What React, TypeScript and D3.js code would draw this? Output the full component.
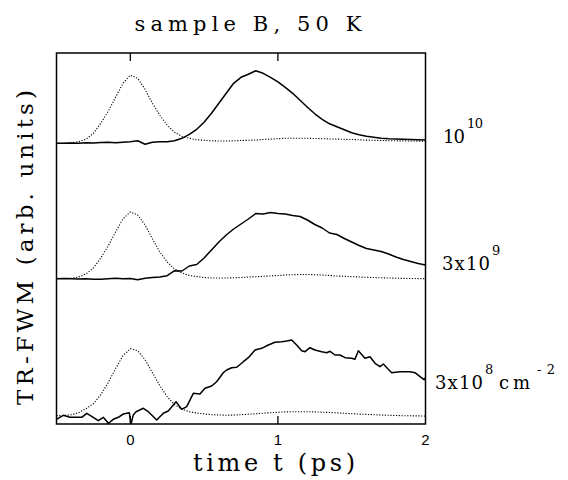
import React from "react";
import * as d3 from "d3";

// time axis (ps)
const TIME = [-0.5,-0.45,-0.4,-0.35,-0.3,-0.25,-0.2,-0.15,-0.1,-0.05,0,0.05,0.1,0.15,0.2,0.25,0.3,0.35,0.4,0.45,0.5,0.55,0.6,0.65,0.7,0.75,0.8,0.85,0.9,0.95,1.0,1.05,1.1,1.15,1.2,1.25,1.3,1.35,1.4,1.45,1.5,1.55,1.6,1.65,1.7,1.75,1.8,1.85,1.9,1.95,2.0];

// density 1e10 cm^-2
const SOLID_1E10 = [0,0,0.3,0,0.5,0.3,0.8,1,0.5,1,1.5,2.5,-1,1,1.5,1.5,2.5,5,9,14,21,30,40,50,60,66,69,72.5,70,66,61.5,56,50,43,36,29.5,24,19.5,16.5,13.5,10.5,8.5,7,6,5,4.5,4.2,4,3.8,3.5,3.3];
const DOTTED_1E10 = [0,0,0.5,1.5,4,10,20,32,46,60,68,65,54,40,28,18,11,7,5,3.5,3,2.5,2.3,2.3,2.5,2.8,3,3.3,3.8,4.2,4.6,5,5,5,5,4.8,4.6,4.4,4.2,4,3.8,3.5,3.2,3,2.8,2.6,2.5,2.4,2.3,2.2,2];

// density 3e9 cm^-2
const SOLID_3E9 = [0.3,0.5,0.3,0,0.3,-0.3,-0.3,0.3,0.7,0.3,0.5,-0.7,0.8,1.5,2,3.3,8.3,8,13,14.5,21,29,37,44,50,55,60,65.5,65,66.5,65.5,65,63.5,62.5,59,54.5,51,46,44.5,40.5,37,33.5,30.5,29,27.5,25,22,19.5,17.5,15.5,14];
const DOTTED_3E9 = [0.5,0.5,0.8,2,5,11,21,33,47,60,67,64,54,40,27,17,10,6,3.5,2.5,1.5,1,1,1,1.2,1.5,2,2.3,2.7,3,3.5,4,4.3,4.5,4.5,4.3,4,3.5,3,2.7,2.3,2,1.7,1.5,1.2,1,0.8,0.6,0.5,0.4,0.3];

// density 3e8 cm^-2 (noisy trace, own time samples)
const TIME_3E8 = [-0.5,-0.454,-0.409,-0.329,-0.295,-0.251,-0.217,-0.183,-0.149,-0.115,-0.081,-0.047,-0.007,0.005,0.02,0.039,0.088,0.122,0.179,0.224,0.257,0.31,0.348,0.382,0.427,0.472,0.506,0.551,0.585,0.63,0.653,0.687,0.721,0.766,0.8,0.845,0.89,0.935,0.98,1.026,1.06,1.093,1.127,1.161,1.184,1.217,1.251,1.297,1.331,1.353,1.387,1.421,1.455,1.5,1.522,1.545,1.59,1.624,1.658,1.692,1.714,1.748,1.771,1.827,1.895,1.929,1.963,1.99,2.0];
const SOLID_3E8 = [-2.6,1.4,-0.6,-0.6,3.4,-0.6,-4,-0.6,-6.6,-2.6,-0.6,2.7,4,-7.3,1.7,5,8.4,5,-3.3,3.4,5.7,15,7.4,10,23.4,22.7,28.4,30.7,35,44,46.7,49,49.4,55,59,66.7,68.4,71.7,74.4,75,75.7,76.7,71.7,66,65,69,66.7,65,64,65.4,61.7,61.7,59,58.4,57.4,66,58.4,60,53.4,50,52.7,47.4,44,45,45,44,40,37,39];
const DOTTED_3E8 = [1,1.2,2,4,8,13,22,34,48,61,68,66,57,44,31,20,12,7.5,5,3.7,2.8,2,1.7,1.5,1.6,2,2.5,3,3.5,4,4.5,4.8,5,5,5,4.8,4.5,4.2,3.8,3.4,3,2.6,2.3,2,1.7,1.4,1.2,1,0.9,0.8,0.7];

// vertical offsets of the three traces (arb. units)
const OFFSETS = [280.7, 145, 7.3];

const X_TICKS = [0, 1, 2];
const X_TICK_LABELS = ["0", "1", "2"];

const TITLE = "sample B, 50 K";
const X_LABEL = "time t (ps)";
const Y_LABEL = "TR-FWM (arb. units)";
const DENS_BASE = ["10", "3x10", "3x10"];
const DENS_EXP = ["10", "9", "8"];
const UNIT = "cm";
const UNIT_EXP = "-2";

const SERIF = "'DejaVu Serif', serif";
const SANS = "'Liberation Sans', Arial, sans-serif";

export default function App() {
  const W = 568, H = 480;
  const L = 56.5, R = 425.5, T = 53, B = 424;
  const x = d3.scaleLinear().domain([-0.5, 2]).range([L, R]);
  const y = d3.scaleLinear().domain([0, 371]).range([B, T]);

  const line = (ts: number[], vs: number[], off: number) =>
    d3.line<number>()
      .x((_, i) => x(ts[i]))
      .y((v) => y(v + off))(vs) as string;

  const traces = [
    { solid: line(TIME, SOLID_1E10, OFFSETS[0]), dotted: line(TIME, DOTTED_1E10, OFFSETS[0]) },
    { solid: line(TIME, SOLID_3E9, OFFSETS[1]), dotted: line(TIME, DOTTED_3E9, OFFSETS[1]) },
    { solid: line(TIME_3E8, SOLID_3E8, OFFSETS[2]), dotted: line(TIME, DOTTED_3E8, OFFSETS[2]) },
  ];

  const labelY = [143, 270, 389];
  const labelX = [443, 442, 435];
  const baseLen = [22, 48, 48];
  const expX = [467, 492, 485];

  return (
    <svg width={W} height={H} style={{ position: "absolute", left: 0, top: 0, display: "block" }}>
      <rect x={0} y={0} width={W} height={H} fill="#fff" />
      <defs>
        <clipPath id="plot">
          <rect x={L} y={T - 20} width={R - L} height={B - T + 20} />
        </clipPath>
      </defs>
      <g clipPath="url(#plot)" fill="none" stroke="#000">
        {traces.map((t, i) => (
          <g key={i}>
            <path d={t.dotted} strokeWidth={1.1} strokeDasharray="1.2 1.6" />
            <path d={t.solid} strokeWidth={1.5} strokeLinejoin="round" />
          </g>
        ))}
      </g>
      <rect x={L} y={T} width={R - L} height={B - T} fill="none" stroke="#000" strokeWidth={1.5} />
      {X_TICKS.slice(0, 2).map((t) => (
        <g key={t} stroke="#000" strokeWidth={1.3}>
          <line x1={x(t)} x2={x(t)} y1={T} y2={T + 8} />
          <line x1={x(t)} x2={x(t)} y1={B} y2={B - 8} />
        </g>
      ))}
      {X_TICKS.map((t, i) => (
        <text key={t} x={x(t)} y={445} fontFamily={SANS} fontSize={15} textAnchor="middle" fill="#000">
          {X_TICK_LABELS[i]}
        </text>
      ))}
      <text x={248} y={31} fontFamily={SERIF} fontSize={21} textAnchor="middle" textLength={227} lengthAdjust="spacing">
        {TITLE}
      </text>
      <text x={274} y={471} fontFamily={SERIF} fontSize={24} textAnchor="middle" textLength={162} lengthAdjust="spacing">
        {X_LABEL}
      </text>
      <text transform="translate(33,247.5) rotate(-90)" fontFamily={SERIF} fontSize={23} textAnchor="middle" textLength={315} lengthAdjust="spacing">
        {Y_LABEL}
      </text>
      {DENS_BASE.map((b, i) => (
        <g key={i} fontFamily={SERIF} fill="#000">
          <text x={labelX[i]} y={labelY[i]} fontSize={18} textLength={baseLen[i]} lengthAdjust="spacing">{b}</text>
          <text x={expX[i]} y={labelY[i] - 15} fontSize={13} textLength={DENS_EXP[i].length > 1 ? 16 : 8} lengthAdjust="spacing">{DENS_EXP[i]}</text>
        </g>
      ))}
      <g fontFamily={SERIF} fill="#000">
        <text x={499} y={389} fontSize={18} textLength={31} lengthAdjust="spacing">{UNIT}</text>
        <text x={537} y={374} fontSize={13} textLength={18} lengthAdjust="spacing">{UNIT_EXP}</text>
      </g>
    </svg>
  );
}
